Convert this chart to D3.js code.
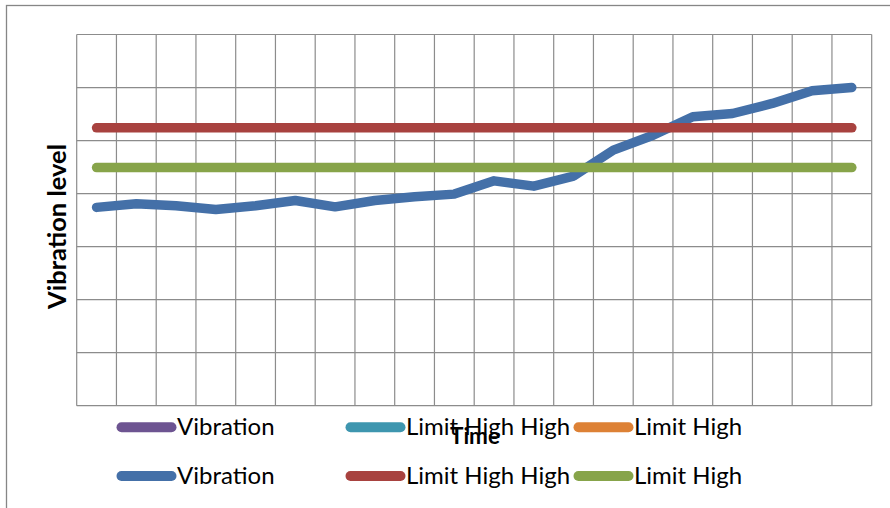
<!DOCTYPE html>
<html>
<head>
<meta charset="utf-8">
<script src="https://cdn.jsdelivr.net/npm/d3@7"></script>
<style>
  html, body { margin: 0; padding: 0; background: #fff; }
  svg { display: block; }
  text { font-family: Lato, "Open Sans", sans-serif; fill: #000; }
</style>
</head>
<body>
<svg id="chart" width="890" height="508"></svg>
<script>
// Time steps (20 samples along the category axis)
const timeSteps = d3.range(1, 21);

// Measured vibration level per time step
const vibration = [37.4, 38.1, 37.7, 37.0, 37.7, 38.7, 37.5, 38.7, 39.4, 39.9,
                   42.4, 41.4, 43.3, 48.2, 51.0, 54.5, 55.1, 57.0, 59.4, 60.0];

// Alarm thresholds (constant over time)
const limitHighHigh = timeSteps.map(() => 52.4);
const limitHigh = timeSteps.map(() => 44.9);

// Value axis gridline positions
const yTicks = [0, 10, 20, 30, 40, 50, 60, 70];

// Legend rows: first row entries, second row entries
const legendLabels = ["Vibration", "Limit High High", "Limit High"];
const legendRow1Colors = ["#6D5491", "#3E96AF", "#DD8135"];
const legendRow2Colors = ["#4470A8", "#A8423F", "#87A44A"];

const svg = d3.select("#chart");

// Outer chart frame (runs past the right and bottom edges)
svg.append("rect")
  .attr("x", 6.5).attr("y", 5.5)
  .attr("width", 900).attr("height", 520)
  .attr("fill", "#fff")
  .attr("stroke", "#868686").attr("stroke-width", 1.3);

const plot = { left: 76.7, top: 34.5, right: 871.7, bottom: 405.7 };

const x = d3.scaleBand()
  .domain(timeSteps)
  .range([plot.left, plot.right])
  .padding(0);

const y = d3.scaleLinear()
  .domain([0, 70])
  .range([plot.bottom, plot.top]);

const grid = svg.append("g").attr("stroke", "#8C8C8C").attr("stroke-width", 1.2);

// Horizontal gridlines
grid.selectAll("line.h").data(yTicks).join("line")
  .attr("class", "h")
  .attr("x1", plot.left).attr("x2", plot.right)
  .attr("y1", d => y(d)).attr("y2", d => y(d));

// Vertical gridlines at category boundaries
const bounds = timeSteps.map(t => x(t)).concat([plot.right]);
grid.selectAll("line.v").data(bounds).join("line")
  .attr("class", "v")
  .attr("x1", d => d).attr("x2", d => d)
  .attr("y1", plot.top).attr("y2", plot.bottom);

const line = d3.line()
  .x((d, i) => x(timeSteps[i]) + x.bandwidth() / 2)
  .y(d => y(d));

const series = [
  { values: vibration, color: legendRow2Colors[0] },
  { values: limitHighHigh, color: legendRow2Colors[1] },
  { values: limitHigh, color: legendRow2Colors[2] }
];

svg.append("g").selectAll("path").data(series).join("path")
  .attr("d", d => line(d.values))
  .attr("fill", "none")
  .attr("stroke", d => d.color)
  .attr("stroke-width", 9.5)
  .attr("stroke-linecap", "round")
  .attr("stroke-linejoin", "round");

// Axis titles
svg.append("text")
  .attr("transform", `translate(65.5,226.5) rotate(-90)`)
  .attr("text-anchor", "middle")
  .attr("font-weight", "bold")
  .attr("font-size", 25.5)
  .text("Vibration level");

// Legend
const legendX = [116.5, 345.5, 573.5];
const legendRows = [
  { y: 427.3, colors: legendRow1Colors },
  { y: 476, colors: legendRow2Colors }
];
const legend = svg.append("g");
legendRows.forEach(row => {
  legendLabels.forEach((label, i) => {
    legend.append("line")
      .attr("x1", legendX[i] + 5).attr("x2", legendX[i] + 55)
      .attr("y1", row.y).attr("y2", row.y)
      .attr("stroke", row.colors[i])
      .attr("stroke-width", 10)
      .attr("stroke-linecap", "round");
    legend.append("text")
      .attr("x", legendX[i] + 60.5)
      .attr("y", row.y + 8)
      .attr("font-size", 24)
      .text(label);
  });
});

svg.append("text")
  .attr("x", 475).attr("y", 443.5)
  .attr("text-anchor", "middle")
  .attr("font-weight", "bold")
  .attr("font-size", 22.5)
  .text("Time");
</script>
</body>
</html>
